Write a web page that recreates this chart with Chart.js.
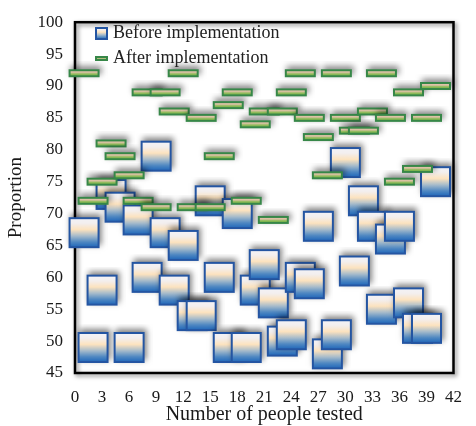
<!DOCTYPE html>
<html>
<head>
<meta charset="utf-8">
<script src="https://cdn.jsdelivr.net/npm/chart.js@4.4.1/dist/chart.umd.min.js"></script>
<style>
  html, body { margin: 0; padding: 0; background: #fff; }
  #wrap { width: 476px; height: 426px; }
</style>
</head>
<body>
<div id="wrap"><canvas id="chart" width="476" height="426"></canvas></div>
<script>
// 测试人数 (x)
const peopleTested = [1, 2, 3, 4, 5, 6, 7, 8, 9, 10, 11, 12, 13, 14, 15, 16, 17, 18, 19, 20,
  21, 22, 23, 24, 25, 26, 27, 28, 29, 30, 31, 32, 33, 34, 35, 36, 37, 38, 39, 40];

// 实施前
const beforeValues = [67, 49, 58, 73, 71, 49, 69, 60, 79, 67, 58, 65, 54, 54, 72, 60, 49, 70, 49, 58,
  62, 56, 50, 51, 60, 59, 68, 48, 51, 78, 61, 72, 68, 55, 66, 68, 56, 52, 52, 75];

// 实施后
const afterValues = [92, 72, 75, 81, 79, 76, 72, 89, 71, 89, 86, 92, 71, 85, 71, 79, 87, 89, 72, 84,
  86, 69, 86, 89, 92, 85, 82, 76, 92, 85, 83, 83, 86, 92, 85, 75, 89, 77, 85, 90];

const seriesLabels = ["Before implementation", "After implementation"];
const xTicks = [0, 3, 6, 9, 12, 15, 18, 21, 24, 27, 30, 33, 36, 39, 42];
const yTicks = [45, 50, 55, 60, 65, 70, 75, 80, 85, 90, 95, 100];

const FONT = "'Liberation Serif', 'Times New Roman', serif";

// 生成带渐变和阴影的标记
function makeMarker(w, h, stops, border, shadow) {
  const m = 8;
  const c = document.createElement("canvas");
  c.width = w + m * 2;
  c.height = h + m * 2;
  const ctx = c.getContext("2d");
  const g = ctx.createLinearGradient(0, m, 0, m + h);
  stops.forEach((s) => g.addColorStop(s[0], s[1]));
  if (shadow) {
    ctx.shadowColor = "rgba(0,0,0,0.5)";
    ctx.shadowBlur = 6;
    ctx.shadowOffsetX = 2;
    ctx.shadowOffsetY = -3;
  }
  ctx.fillStyle = border;
  ctx.fillRect(m, m, w, h);
  ctx.shadowColor = "transparent";
  ctx.fillStyle = g;
  ctx.fillRect(m + 2, m + 2, w - 4, h - 4);
  return c;
}

const blueStops = [
  [0, "#f4f4f9"],
  [0.2, "#f3efef"],
  [0.4, "#fde3bf"],
  [0.6, "#a8bccb"],
  [0.8, "#4f88c2"],
  [1, "#1660b8"],
];
const greenStops = [
  [0, "#efcbbb"],
  [0.4, "#dcc0a4"],
  [0.6, "#8cbc58"],
  [1, "#62aa38"],
];

const blueMarker = makeMarker(31, 31, blueStops, "#2455a2", true);
const greenMarker = makeMarker(31, 8, greenStops, "#378748", true);
const blueIcon = makeMarker(13, 13, blueStops, "#2455a2", false);
const greenIcon = makeMarker(13, 5, greenStops, "#378748", false);

// 外框
const framePlugin = {
  id: "frame",
  beforeDatasetsDraw(chart) {
    const { ctx, chartArea: a } = chart;
    ctx.save();
    ctx.shadowColor = "rgba(0,0,0,0.5)";
    ctx.shadowBlur = 4;
    ctx.shadowOffsetX = 2;
    ctx.shadowOffsetY = 2;
    ctx.strokeStyle = "#000";
    ctx.lineWidth = 2.5;
    ctx.strokeRect(a.left, a.top, a.right - a.left, a.bottom - a.top);
    ctx.restore();
  },
};

// 图例画在绘图区内
const legendPlugin = {
  id: "innerLegend",
  afterDatasetsDraw(chart) {
    const ctx = chart.ctx;
    ctx.save();
    ctx.font = "18px " + FONT;
    ctx.fillStyle = "#222";
    ctx.textBaseline = "middle";
    ctx.textAlign = "left";
    const m = 8;
    ctx.drawImage(blueIcon, 95 - m, 27 - m);
    ctx.fillText(seriesLabels[0], 113, 33);
    ctx.drawImage(greenIcon, 95 - m, 56 - m);
    ctx.fillText(seriesLabels[1], 113, 58);
    ctx.restore();
  },
};

function toPoints(values) {
  return values.map((v, i) => ({ x: peopleTested[i], y: v }));
}

new Chart(document.getElementById("chart"), {
  type: "scatter",
  data: {
    datasets: [
      {
        label: seriesLabels[0],
        data: toPoints(beforeValues),
        pointStyle: blueMarker,
        order: 2,
        clip: false,
      },
      {
        label: seriesLabels[1],
        data: toPoints(afterValues),
        pointStyle: greenMarker,
        order: 1,
        clip: false,
      },
    ],
  },
  options: {
    responsive: false,
    animation: false,
    events: [],
    layout: { padding: { left: 0, right: 11, top: 21, bottom: 0 } },
    plugins: {
      legend: { display: false },
      tooltip: { enabled: false },
    },
    scales: {
      x: {
        type: "linear",
        min: 0,
        max: 42,
        afterFit(scale) { scale.height = 53; },
        afterBuildTicks(scale) { scale.ticks = xTicks.map((v) => ({ value: v })); },
        grid: { display: false, drawTicks: false },
        border: { display: false },
        ticks: { padding: 14, color: "#1a1a1a", font: { family: FONT, size: 17 }, maxRotation: 0, autoSkip: false },
        title: {
          display: true,
          text: "Number of people tested",
          color: "#1a1a1a",
          font: { family: FONT, size: 20 },
          padding: { top: 0, bottom: -1 },
        },
      },
      y: {
        type: "linear",
        min: 45,
        max: 100,
        afterFit(scale) { scale.width = 75; },
        afterBuildTicks(scale) { scale.ticks = yTicks.map((v) => ({ value: v })); },
        grid: { display: false, drawTicks: false },
        border: { display: false },
        ticks: { padding: 12, color: "#1a1a1a", font: { family: FONT, size: 17 }, autoSkip: false },
        title: {
          display: true,
          text: "Proportion",
          color: "#1a1a1a",
          font: { family: FONT, size: 19 },
          padding: { top: 5, bottom: 0 },
        },
      },
    },
  },
  plugins: [framePlugin, legendPlugin],
});
</script>
</body>
</html>
